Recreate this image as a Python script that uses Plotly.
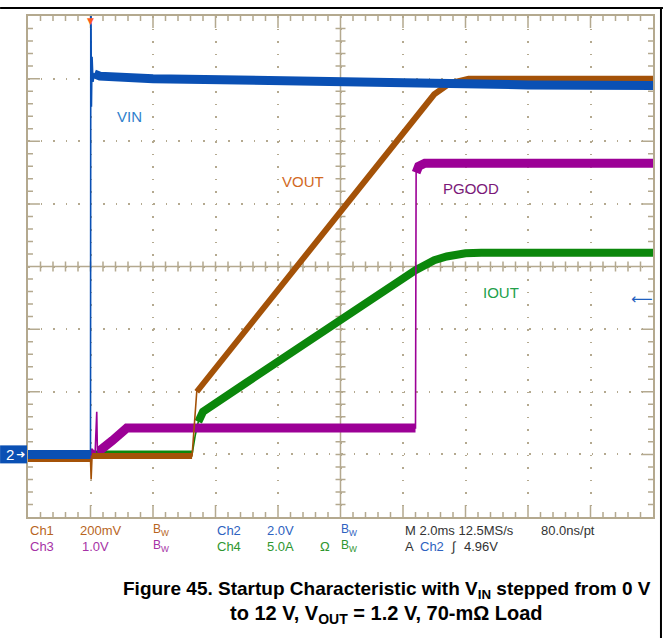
import plotly.graph_objects as go

# scope settings: 2 ms/div, 10 x 8 divisions, all grounds at -3 div
t_min, t_max = -2.0, 18.0
div_min, div_max = -4.0, 4.0
ground_div = -3.0
trig_time = 0.0
trig_level = 4.96          # V on Ch2

# Ch2 VIN, 2 V/div
t_vin = [-2.0, 0.0, 0.01, 0.03, 0.05, 0.08, 0.12, 0.3, 2.0, 6.0, 10.0, 14.0, 18.0]
vin = [0.0, 0.0, 15.5, 11.1, 12.7, 11.9, 12.15, 12.08, 12.0, 11.92, 11.85, 11.8, 11.78]

# Ch1 VOUT, 200 mV/div
t_vout = [-2.0, 0.0, 0.02, 0.05, 3.25, 3.33, 3.4, 3.6, 3.9, 4.8, 6.0, 8.0, 10.3, 11.0, 11.5, 12.1, 18.0]
vout = [-0.015, -0.015, -0.08, -0.005, -0.005, 0.11, 0.2, 0.225, 0.263, 0.372, 0.522, 0.774, 1.064, 1.15, 1.185, 1.2, 1.2]

# Ch3 PGOOD, 1 V/div
t_pg = [-2.0, 0.05, 0.15, 0.2, 0.22, 0.3, 0.7, 1.16, 10.4, 10.42, 10.5, 10.7, 18.0]
pgood = [0.0, 0.0, 0.05, 0.68, 0.06, 0.06, 0.22, 0.42, 0.42, 4.5, 4.6, 4.65, 4.65]

# Ch4 IOUT, 5 A/div
t_iout = [-2.0, 3.25, 3.35, 3.45, 3.6, 5.0, 6.4, 8.0, 10.4, 11.0, 11.4, 12.0, 12.5, 18.0]
iout = [0.0, 0.0, 1.5, 2.6, 3.4, 5.75, 8.1, 10.8, 14.7, 15.5, 15.8, 16.05, 16.1, 16.1]

W, H = 665, 638
L, R, T, B = 28, 10, 16, 121
PW, PH = W - L - R, H - T - B
PX_PER_MS = PW / (t_max - t_min)
PX_PER_DIV = PH / (div_max - div_min)

GRID = '#b4a98f'


def to_div(v, per_div):
    return [x / per_div + ground_div for x in v]


def band(t, v, per_div, limit=4.0):
    # keep only the slow parts of a trace; fast edges stay thin like on the scope
    xs, ys = [], []
    for i in range(len(t) - 1):
        dx = (t[i + 1] - t[i]) * PX_PER_MS
        dy = abs(v[i + 1] - v[i]) / per_div * PX_PER_DIV
        if dy <= limit * dx:
            if not xs or xs[-1] != t[i]:
                if xs:
                    xs.append(None)
                    ys.append(None)
                xs.append(t[i])
                ys.append(v[i] / per_div + ground_div)
            xs.append(t[i + 1])
            ys.append(v[i + 1] / per_div + ground_div)
    return xs, ys


fig = go.Figure()

channels = [
    (t_iout, iout, 5.0, '#0b870b', 8),
    (t_pg, pgood, 1.0, '#9c0096', 9),
    (t_vout, vout, 0.2, '#a45208', 6),
    (t_vin, vin, 2.0, '#0a50b4', 9),
]
for t, v, per_div, color, width in channels:
    fig.add_trace(go.Scatter(x=t, y=to_div(v, per_div), mode='lines',
                             line=dict(color=color, width=1.6), hoverinfo='skip'))
    bx, by = band(t, v, per_div)
    fig.add_trace(go.Scatter(x=bx, y=by, mode='lines',
                             line=dict(color=color, width=width), hoverinfo='skip'))

# graticule ticks
dxp = 1 / PX_PER_MS
dyp = 1 / PX_PER_DIV
t_mid = (t_min + t_max) / 2
p = []
for k in range(1, 50):
    t = t_min + k * (t_max - t_min) / 50
    ln = 12 if k % 5 == 0 else 5
    p.append(f'M{t},{div_max} L{t},{div_max - ln * dyp}')
    p.append(f'M{t},{div_min} L{t},{div_min + ln * dyp}')
    p.append(f'M{t},{-5 * dyp} L{t},{5 * dyp}')
for k in range(1, 40):
    d = div_min + k * 0.2
    ln = 12 if k % 5 == 0 else 5
    p.append(f'M{t_min},{d} L{t_min + ln * dxp},{d}')
    p.append(f'M{t_max},{d} L{t_max - ln * dxp},{d}')
    p.append(f'M{t_mid - 5 * dxp},{d} L{t_mid + 5 * dxp},{d}')
p.append(f'M{t_mid},{div_min} L{t_mid},{div_max}')
p.append(f'M{t_min},0 L{t_max},0')
fig.add_shape(type='path', xref='x', yref='y', path=' '.join(p),
              line=dict(color=GRID, width=1.5), layer='below')


def px(x, y):
    return (x - L) / PW, (H - B - y) / PH


# outer frame of the figure page
x0, y0 = px(0, 8)
x1, _ = px(665, 8)
xr, yb = px(663, 638)
fig.add_shape(type='line', xref='paper', yref='paper', x0=x0, x1=x1, y0=y0, y1=y0,
              line=dict(color='black', width=2))
fig.add_shape(type='line', xref='paper', yref='paper', x0=xr, x1=xr, y0=y0, y1=yb,
              line=dict(color='black', width=2))

# Ch2 ground marker
gx0, _ = px(0, 0)
gx1, _ = px(27, 0)
fig.add_shape(type='rect', xref='paper', yref='y', x0=gx0, x1=gx1,
              y0=ground_div - 9 * dyp, y1=ground_div + 9 * dyp,
              fillcolor='#0a50b4', line=dict(width=0))
ann = []
ann.append(dict(x=px(4, 0)[0], y=ground_div, xref='paper', yref='y', xanchor='left', text='2',
                font=dict(color='white', size=15)))
ann.append(dict(x=px(14, 0)[0], y=ground_div, xref='paper', yref='y', xanchor='left', text='➜',
                font=dict(color='white', size=11, family='DejaVu Sans')))
# trigger level arrow and trigger position marker
ann.append(dict(x=px(657, 0)[0], y=trig_level / 2.0 + ground_div, xref='paper', yref='y',
                xanchor='right', text='⟵', font=dict(color='#1f5fc0', size=15, family='DejaVu Sans')))
ann.append(dict(x=trig_time, y=1.0, xref='x', yref='paper', yanchor='top', text='▼',
                font=dict(color='#ff5a1e', size=9, family='DejaVu Sans'), yshift=2))

# channel labels
labels = [('VIN', 1.25, 2.4, '#2f7fcc'), ('VOUT', 6.8, 1.35, '#d2691e'),
          ('PGOOD', 12.16, 1.25, '#7a1878'), ('IOUT', 13.15, -0.42, '#22a04a')]
for txt, lx, ly, c in labels:
    ann.append(dict(x=lx, y=ly, xref='x', yref='y', text=txt, font=dict(color=c, size=15)))

# readout
BR, PU, BL, GR, DK = '#b8651e', '#a632a6', '#2e62c0', '#2f9630', '#333333'
bw = 'B<sub>W</sub>'
readout = [
    ('Ch1', 28, 530, BR), ('200mV', 78, 530, BR), (bw, 151, 530, BR),
    ('Ch2', 216, 530, BL), ('2.0V', 266, 530, BL), (bw, 340, 530, BL),
    ('M 2.0ms 12.5MS/s', 404, 530, DK), ('80.0ns/pt', 541, 530, DK),
    ('Ch3', 28, 546, PU), ('1.0V', 80, 546, PU), (bw, 151, 546, PU),
    ('Ch4', 216, 546, GR), ('5.0A', 266, 546, GR), ('Ω', 319, 546, GR), (bw, 340, 546, GR),
    ('A', 404, 546, DK), ('Ch2', 419, 546, BL), ('∫', 450, 546, DK), ('4.96V', 463, 546, DK),
]
for txt, x, y, c in readout:
    ax, ay = px(x, y)
    ann.append(dict(x=ax, y=ay, xref='paper', yref='paper', xanchor='left', yanchor='middle',
                    text=txt, font=dict(color=c, size=12 if txt == bw else 13)))

# caption
cap1 = 'Figure 45. Startup Characteristic with V<sub>IN</sub> stepped from 0 V'
cap2 = 'to 12 V, V<sub>OUT</sub> = 1.2 V, 70-mΩ Load'
for txt, y, fs in [(cap1, 590, 19), (cap2, 614, 20)]:
    ax, ay = px(388, y)
    ann.append(dict(x=ax, y=ay, xref='paper', yref='paper', xanchor='center', yanchor='middle',
                    text=f'<b>{txt}</b>', font=dict(color='black', size=fs)))

for a in ann:
    a['showarrow'] = False
fig.update_layout(annotations=ann)

dot = PX_PER_DIV / 5
fig.update_layout(
    width=W, height=H,
    margin=dict(l=L, r=R, t=T, b=B),
    paper_bgcolor='white', plot_bgcolor='white',
    showlegend=False,
    font=dict(family='Liberation Sans, Arial, sans-serif'),
    xaxis=dict(range=[t_min, t_max], dtick=2, tick0=t_min, showticklabels=False, ticks='',
               showgrid=True, gridcolor=GRID, gridwidth=1.5, griddash=f'1.5px,{dot - 1.5:.2f}px',
               zeroline=False, showline=True, linecolor=GRID, linewidth=1.5, mirror=True, fixedrange=True),
    yaxis=dict(range=[div_min, div_max], dtick=1, tick0=div_min, showticklabels=False, ticks='',
               showgrid=True, gridcolor=GRID, gridwidth=1.5, griddash=f'1.5px,{dot - 1.5:.2f}px',
               zeroline=False, showline=True, linecolor=GRID, linewidth=1.5, mirror=True, fixedrange=True),
)

fig.write_html('out.html', config={'displayModeBar': False},
               post_script="document.body.style.margin='0';")
